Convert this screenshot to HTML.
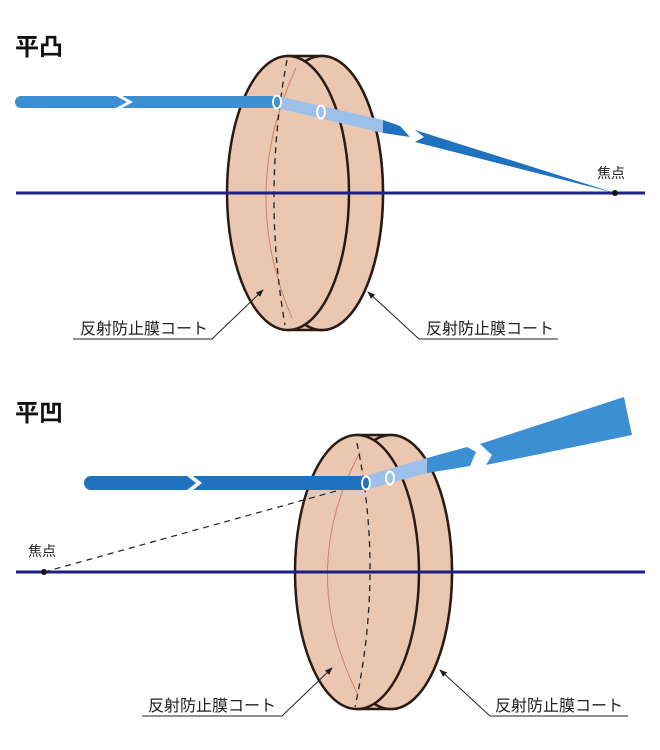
<!DOCTYPE html>
<html><head><meta charset="utf-8"><style>
html,body{margin:0;padding:0;background:#fff;}
svg{display:block;}
text{font-family:"Liberation Sans","Noto Sans CJK JP",sans-serif;}
</style></head><body>
<svg width="660" height="750" viewBox="0 0 660 750" xmlns="http://www.w3.org/2000/svg">
<defs>
<marker id="ah" markerWidth="8" markerHeight="8" refX="7" refY="4" orient="auto" markerUnits="userSpaceOnUse">
<path d="M0,1 L8,4 L0,7 z" fill="#222"/></marker>
</defs>

<text x="15" y="55" font-size="24" font-weight="bold" fill="#111">平凸</text>

<!-- top lens -->
<g>
<path d="M288,56 L322,56 A61,137 0 0 1 322,330 L288,330 z" fill="#ebc6b0" stroke="#2a1a14" stroke-width="2.5"/>
<ellipse cx="322" cy="193" rx="61" ry="137" fill="#ebc6b0" stroke="#2a1a14" stroke-width="2.5"/>
<ellipse cx="288" cy="193" rx="61" ry="137" fill="#ebc6b0" stroke="#2a1a14" stroke-width="2.5"/>
<path d="M296,68 Q238,193 292,318" fill="none" stroke="#c8836a" stroke-width="1"/>
<path d="M287,60 Q262,193 285,325" fill="none" stroke="#222" stroke-width="1.3" stroke-dasharray="6,5"/>
</g>
<line x1="16" y1="193" x2="645" y2="193" stroke="#1d2185" stroke-width="3"/>
<circle cx="615" cy="193" r="3" fill="#111"/>
<text x="597" y="178" font-size="14" fill="#222">焦点</text>

<!-- top beam -->
<path d="M21,96 L116,96 L127,102 L116,108 L21,108 A6,6 0 0 1 21,96 z" fill="#3d8fd3"/>
<path d="M122,96 L277,96 L277,108 L122,108 L133,102 z" fill="#3d8fd3"/>
<path d="M277,96 L383,120 L383,133 L277,108 z" fill="#9cc0ea"/>
<path d="M383,120 L400,126 L410,137 L383,133 z" fill="#1f72c0"/>
<path d="M415,130 L615,193 L415,142 L424,137 z" fill="#1f72c0"/>
<ellipse cx="277" cy="102" rx="4" ry="6.5" fill="#3d8fd3" stroke="#fff" stroke-width="2"/>
<ellipse cx="321" cy="112" rx="4" ry="6.5" fill="#9cc0ea" stroke="#fff" stroke-width="2"/>

<!-- top labels -->
<text x="80" y="334" font-size="16" fill="#222">反射防止膜コート</text>
<polyline points="73,339 212,339 263,290" fill="none" stroke="#222" stroke-width="1" marker-end="url(#ah)"/>
<text x="426" y="334" font-size="16" fill="#222">反射防止膜コート</text>
<line x1="419" y1="339" x2="558" y2="339" stroke="#222" stroke-width="1"/>
<line x1="419" y1="339" x2="368" y2="292" stroke="#222" stroke-width="1" marker-end="url(#ah)"/>

<text x="15" y="421" font-size="24" font-weight="bold" fill="#111">平凹</text>

<!-- bottom lens -->
<g>
<path d="M357,435 L391,435 A61,137 0 0 1 391,709 L357,709 z" fill="#ebc6b0" stroke="#2a1a14" stroke-width="2.5"/>
<ellipse cx="391" cy="572" rx="61" ry="137" fill="#ebc6b0" stroke="#2a1a14" stroke-width="2.5"/>
<ellipse cx="357" cy="572" rx="62" ry="137" fill="#ebc6b0" stroke="#2a1a14" stroke-width="2.5"/>
<path d="M360,452 Q296,572 358,695" fill="none" stroke="#c8836a" stroke-width="1"/>
<path d="M357,443 Q384,572 355,707" fill="none" stroke="#222" stroke-width="1.3" stroke-dasharray="6,5"/>
</g>
<line x1="16" y1="572" x2="645" y2="572" stroke="#1d2185" stroke-width="3"/>
<circle cx="44" cy="572" r="3" fill="#111"/>
<text x="28" y="556" font-size="14" fill="#222">焦点</text>
<line x1="44" y1="572" x2="365" y2="483" stroke="#222" stroke-width="1.2" stroke-dasharray="6,5"/>

<!-- bottom beam -->
<path d="M91,476 L187,476 L196,483 L187,490 L91,490 A7,7 0 0 1 91,476 z" fill="#1f72c0"/>
<path d="M193,476 L365,476 L365,490 L193,490 L202,483 z" fill="#1f72c0"/>
<path d="M365,476 L427,458 L427,473 L365,490 z" fill="#9cc0ea"/>
<path d="M427,458 L467,447 L476,452 L470,466 L427,473 z" fill="#3d8fd3"/>
<path d="M480,444 L624,397 L632,435 L486,465 L492,455 z" fill="#3d8fd3"/>
<ellipse cx="366" cy="483" rx="4" ry="6.5" fill="#1f72c0" stroke="#fff" stroke-width="2"/>
<ellipse cx="390" cy="478" rx="4" ry="6.5" fill="#9cc0ea" stroke="#fff" stroke-width="2"/>

<!-- bottom labels -->
<text x="148" y="711" font-size="16" fill="#222">反射防止膜コート</text>
<polyline points="142,716 282,716 332,668" fill="none" stroke="#222" stroke-width="1" marker-end="url(#ah)"/>
<text x="495" y="711" font-size="16" fill="#222">反射防止膜コート</text>
<line x1="490" y1="716" x2="628" y2="716" stroke="#222" stroke-width="1"/>
<line x1="490" y1="716" x2="440" y2="670" stroke="#222" stroke-width="1" marker-end="url(#ah)"/>
</svg>
</body></html>
